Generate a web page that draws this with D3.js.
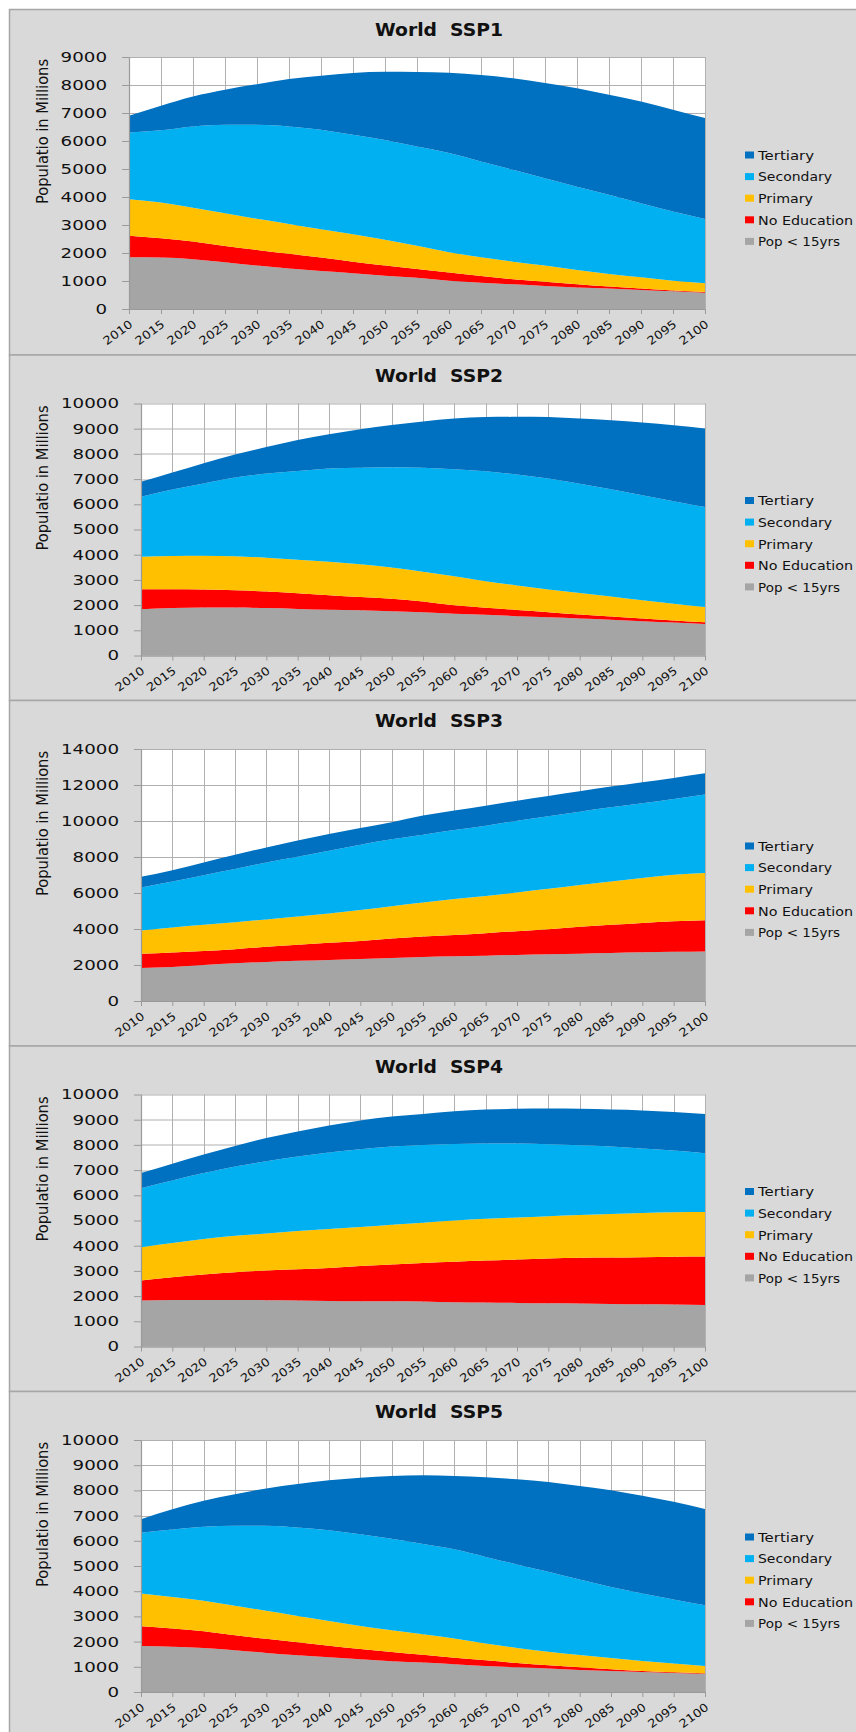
<!DOCTYPE html>
<html>
<head>
<meta charset="utf-8">
<script src="https://cdn.jsdelivr.net/npm/d3@7"></script>
<style>
  body { margin: 0; background: #fff; }
  svg { display: block; }
</style>
</head>
<body>
<div id="chart"></div>
<script>
// World population by education, SSP1-SSP5 (millions)
const years = [2010, 2015, 2020, 2025, 2030, 2035, 2040, 2045, 2050, 2055,
               2060, 2065, 2070, 2075, 2080, 2085, 2090, 2095, 2100];
const seriesNames = ["Pop < 15yrs", "No Education", "Primary", "Secondary", "Tertiary"];
const seriesColors = ["#a5a5a5", "#ff0000", "#ffc000", "#00b0f0", "#0070c0"];

// SSP1
const ssp1Under15 = [1850,1840,1780,1670,1550,1450,1360,1280,1190,1120,1010,940,880,820,770,730,680,630,580];
const ssp1NoEdu   = [770,690,630,580,560,520,480,410,360,310,290,240,180,150,110,70,50,30,30];
const ssp1Primary = [1300,1270,1210,1170,1110,1070,1010,980,920,830,730,670,630,580,510,450,400,350,310];
const ssp1Second  = [2380,2580,2900,3160,3360,3480,3550,3550,3570,3540,3540,3420,3280,3120,2980,2830,2650,2470,2290];
const ssp1Tert    = [600,880,1070,1250,1450,1690,1930,2210,2430,2660,2870,3090,3270,3400,3510,3570,3630,3640,3610];

// SSP2
const ssp2Under15 = [1840,1880,1900,1900,1880,1850,1820,1800,1760,1720,1660,1620,1560,1520,1470,1420,1360,1310,1250];
const ssp2NoEdu   = [790,750,720,690,660,620,570,520,490,420,330,270,250,200,160,130,110,80,70];
const ssp2Primary = [1290,1320,1340,1350,1340,1330,1330,1300,1240,1180,1150,1060,970,900,850,790,720,660,600];
const ssp2Second  = [2380,2640,2870,3120,3340,3520,3700,3830,3980,4130,4250,4360,4400,4400,4340,4260,4170,4070,3970];
const ssp2Tert    = [590,670,800,920,1050,1230,1360,1530,1680,1840,2010,2150,2290,2440,2580,2740,2890,3020,3120];

// SSP3
const ssp3Under15 = [1840,1890,2000,2100,2170,2230,2280,2340,2390,2450,2490,2520,2560,2600,2630,2670,2710,2730,2750];
const ssp3NoEdu   = [780,800,780,780,840,890,950,1000,1080,1130,1180,1250,1320,1390,1490,1560,1630,1700,1740];
const ssp3Primary = [1300,1390,1450,1500,1520,1570,1630,1710,1800,1890,1990,2060,2150,2240,2320,2410,2490,2580,2620];
const ssp3Second  = [2390,2560,2760,2950,3170,3320,3490,3630,3710,3770,3840,3910,3990,4030,4080,4120,4150,4210,4360];
const ssp3Tert    = [590,630,710,800,830,900,930,930,950,1060,1080,1110,1110,1130,1130,1150,1170,1170,1180];

// SSP4
const ssp4Under15 = [1830,1850,1850,1850,1840,1830,1810,1800,1800,1790,1760,1750,1730,1720,1710,1690,1680,1670,1650];
const ssp4NoEdu   = [790,900,1010,1100,1180,1240,1310,1390,1450,1520,1600,1660,1720,1770,1810,1840,1860,1890,1920];
const ssp4Primary = [1320,1360,1410,1440,1460,1510,1540,1550,1580,1600,1640,1660,1670,1680,1700,1730,1760,1770,1770];
const ssp4Second  = [2340,2480,2610,2750,2870,2960,3040,3090,3110,3090,3040,2990,2940,2860,2770,2680,2560,2450,2330];
const ssp4Tert    = [600,660,740,820,920,990,1070,1140,1190,1230,1300,1340,1370,1410,1440,1460,1510,1530,1560];

// SSP5
const ssp5Under15 = [1830,1800,1750,1660,1550,1460,1380,1300,1220,1170,1100,1030,980,930,870,830,790,750,720];
const ssp5NoEdu   = [780,720,660,590,560,510,460,410,370,310,260,230,170,130,110,70,40,30,20];
const ssp5Primary = [1300,1250,1210,1170,1110,1050,980,910,860,810,760,660,600,540,490,450,400,350,290];
const ssp5Second  = [2410,2680,2940,3180,3380,3510,3600,3640,3630,3580,3540,3440,3310,3170,2990,2820,2680,2540,2410];
const ssp5Tert    = [540,800,1030,1250,1480,1720,1980,2240,2490,2730,2910,3160,3380,3560,3710,3840,3880,3880,3820];

const ticks9k  = [0,1000,2000,3000,4000,5000,6000,7000,8000,9000];
const ticks10k = [0,1000,2000,3000,4000,5000,6000,7000,8000,9000,10000];
const ticks14k = [0,2000,4000,6000,8000,10000,12000,14000];

const panels = [
  { title: "World  SSP1", ticks: ticks9k,  layers: [ssp1Under15, ssp1NoEdu, ssp1Primary, ssp1Second, ssp1Tert] },
  { title: "World  SSP2", ticks: ticks10k, layers: [ssp2Under15, ssp2NoEdu, ssp2Primary, ssp2Second, ssp2Tert] },
  { title: "World  SSP3", ticks: ticks14k, layers: [ssp3Under15, ssp3NoEdu, ssp3Primary, ssp3Second, ssp3Tert] },
  { title: "World  SSP4", ticks: ticks10k, layers: [ssp4Under15, ssp4NoEdu, ssp4Primary, ssp4Second, ssp4Tert] },
  { title: "World  SSP5", ticks: ticks10k, layers: [ssp5Under15, ssp5NoEdu, ssp5Primary, ssp5Second, ssp5Tert] }
];

(() => {
  const W = 856, H = 1732;
  const panelStep = 345.5, firstTop = 9;
  const plotRight = 705, plotH = 252;
  const legendWidths = { "Tertiary": 56, "Secondary": 74, "Primary": 55, "No Education": 95, "Pop < 15yrs": 82 };
  const font = "'DejaVu Sans', Verdana, sans-serif";

  const svg = d3.select("#chart").append("svg").attr("width", W).attr("height", H);
  svg.append("rect").attr("width", W).attr("height", H).attr("fill", "#fff");

  panels.forEach((p, i) => {
    const top = firstTop + i * panelStep;
    const plotTop = top + (i === 0 ? 48 : 49);
    const plotLeft = i === 0 ? 129 : 141;
    const w = plotRight - plotLeft;

    // panel background + border
    svg.append("rect")
      .attr("x", 9.5).attr("y", top + 0.5)
      .attr("width", W + 10).attr("height", panelStep)
      .attr("fill", "#d9d9d9").attr("stroke", "#a6a6a6").attr("stroke-width", 1.5);

    const g = svg.append("g").attr("transform", `translate(${plotLeft},${plotTop})`);

    const x = d3.scaleLinear().domain([years[0], years[years.length - 1]]).range([0, w]);
    const y = d3.scaleLinear().domain([0, d3.max(p.ticks)]).range([plotH, 0]);

    // plot area and grid
    g.append("rect").attr("width", w).attr("height", plotH).attr("fill", "#fff");
    g.append("g").selectAll("line").data(years).join("line")
      .attr("x1", d => Math.round(x(d)) + 0.5).attr("x2", d => Math.round(x(d)) + 0.5)
      .attr("y1", 0).attr("y2", plotH)
      .attr("stroke", "#b0b0b0").attr("stroke-width", 1);
    g.append("g").selectAll("line").data(p.ticks).join("line")
      .attr("x1", 0).attr("x2", w)
      .attr("y1", d => Math.round(y(d)) + 0.5).attr("y2", d => Math.round(y(d)) + 0.5)
      .attr("stroke", "#b0b0b0").attr("stroke-width", 1);

    // stacked areas
    const rows = years.map((yr, k) => {
      const r = { year: yr };
      seriesNames.forEach((s, j) => { r[s] = p.layers[j][k]; });
      return r;
    });
    const stacked = d3.stack().keys(seriesNames)(rows);
    const area = d3.area()
      .x(d => x(d.data.year))
      .y0(d => y(d[0]))
      .y1(d => y(d[1]))
      .curve(d3.curveMonotoneX);
    g.append("g").selectAll("path").data(stacked).join("path")
      .attr("d", area)
      .attr("fill", (d, j) => seriesColors[j]);

    // axes
    const yAxis = g.append("g")
      .call(d3.axisLeft(y).tickValues(p.ticks).tickFormat(d3.format("d"))
        .tickSize(7).tickPadding(15).tickSizeOuter(0));
    const xAxis = g.append("g").attr("transform", `translate(0,${plotH})`)
      .call(d3.axisBottom(x).tickValues(years).tickFormat(d3.format("d")).tickSize(5).tickSizeOuter(0));
    [yAxis, xAxis].forEach(a => {
      a.select(".domain").attr("stroke", "#9a9a9a").attr("stroke-width", 1.2);
      a.selectAll(".tick line").attr("stroke", "#9a9a9a");
    });
    yAxis.selectAll("text")
      .attr("font-family", font).attr("font-size", 14).attr("fill", "#111")
      .attr("textLength", d => String(d).length * 11.6)
      .attr("lengthAdjust", "spacingAndGlyphs");
    xAxis.selectAll("text")
      .attr("font-family", font).attr("font-size", 11.5).attr("fill", "#111")
      .attr("y", 0).attr("dy", 0)
      .attr("text-anchor", "end")
      .attr("transform", "translate(4,17) rotate(-36)")
      .attr("textLength", 33).attr("lengthAdjust", "spacingAndGlyphs");

    // y axis title
    svg.append("text")
      .attr("transform", `translate(48,${plotTop + 147}) rotate(-90)`)
      .attr("font-family", font).attr("font-size", 16).attr("fill", "#111")
      .attr("textLength", 145).attr("lengthAdjust", "spacingAndGlyphs")
      .text("Populatio in Millions");

    // panel title
    svg.append("text")
      .attr("x", 439).attr("y", top + 27)
      .attr("text-anchor", "middle")
      .attr("font-family", font).attr("font-size", 17).attr("font-weight", "bold")
      .attr("fill", "#111").style("white-space", "pre")
      .attr("textLength", 128).attr("lengthAdjust", "spacingAndGlyphs")
      .text(p.title);

    // legend (top to bottom: Tertiary ... Pop < 15yrs)
    const legendOrder = seriesNames.map((s, j) => ({ name: s, color: seriesColors[j] })).reverse();
    const lg = svg.append("g").attr("transform", `translate(745,${top + 146})`);
    const item = lg.selectAll("g").data(legendOrder).join("g")
      .attr("transform", (d, k) => `translate(0,${k * 21.6})`);
    item.append("rect").attr("x", 0).attr("y", -3.5).attr("width", 9).attr("height", 7)
      .attr("fill", d => d.color);
    item.append("text").attr("x", 13).attr("y", 4.8)
      .attr("font-family", font).attr("font-size", 13).attr("fill", "#111")
      .attr("textLength", d => legendWidths[d.name]).attr("lengthAdjust", "spacingAndGlyphs")
      .text(d => d.name);
  });
})();
</script>
</body>
</html>
